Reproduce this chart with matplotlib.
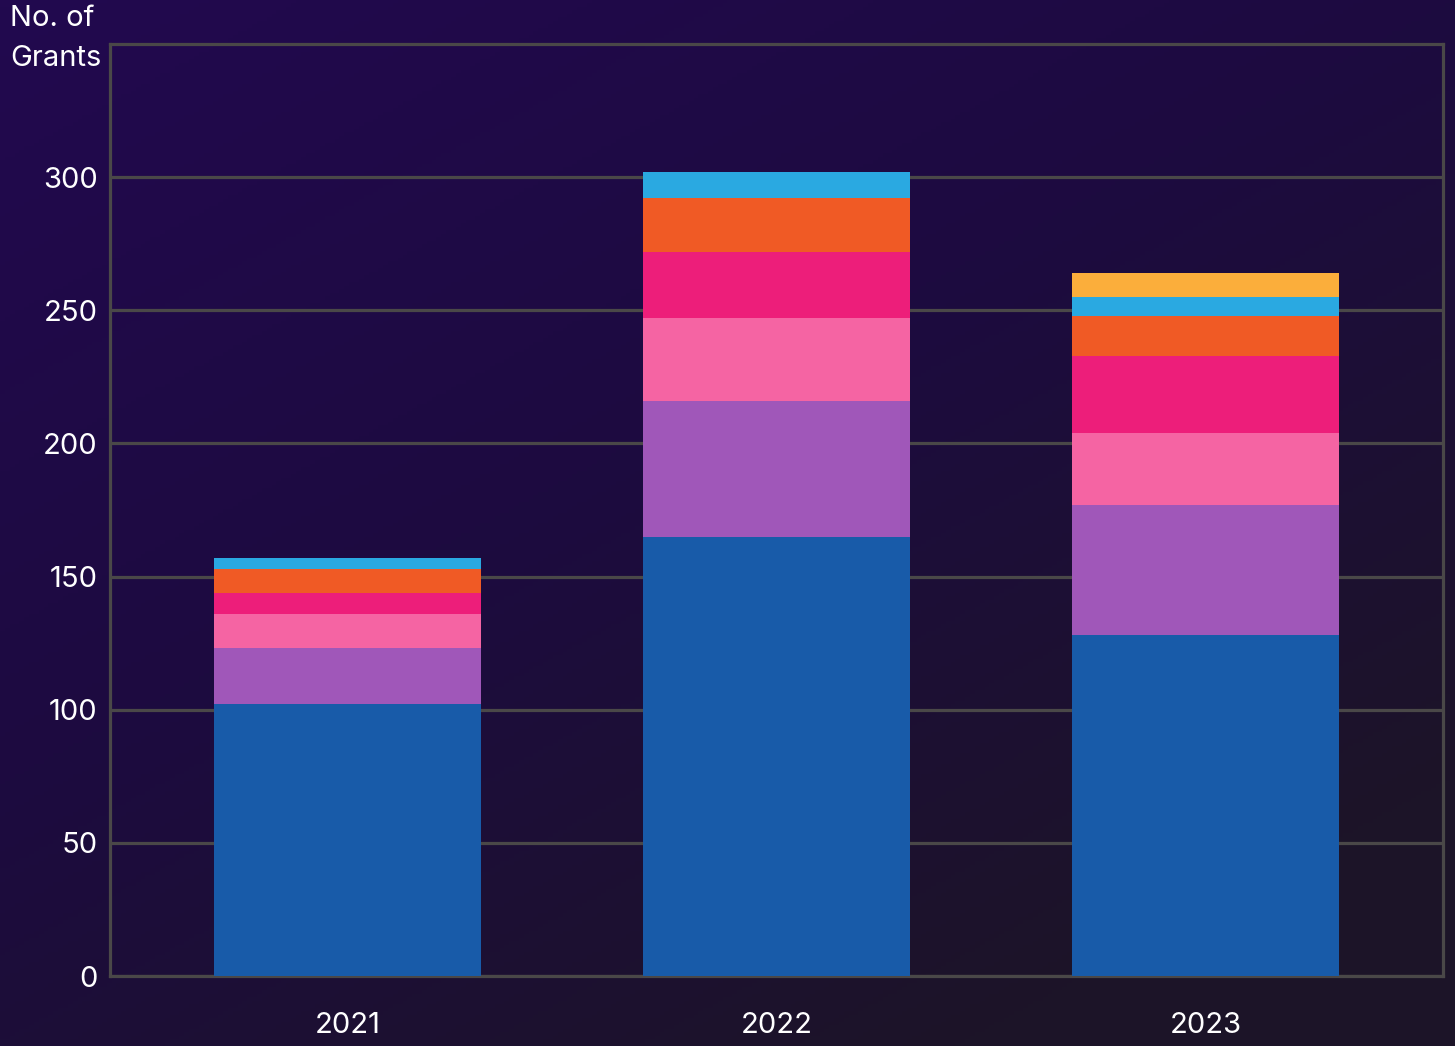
import matplotlib
matplotlib.use("Agg")
import matplotlib.pyplot as plt
import matplotlib.colors as mcolors
import numpy as np

plt.rcParams['font.family'] = ['Inter', 'DejaVu Sans']

years = ['2021', '2022', '2023']

# stacked segments, bottom to top
seg_blue = [102, 165, 128]
seg_purple = [21, 51, 49]
seg_pink = [13, 31, 27]
seg_magenta = [8, 25, 29]
seg_orange = [9, 20, 15]
seg_cyan = [4, 10, 7]
seg_yellow = [0, 0, 9]

segments = [seg_blue, seg_purple, seg_pink, seg_magenta, seg_orange, seg_cyan, seg_yellow]
colors = ['#185ba9', '#a057b9', '#f564a3', '#ed1e7a', '#f05a25', '#2aa9e1', '#fbae3b']

y_ticks = [0, 50, 100, 150, 200, 250, 300]

fig = plt.figure(figsize=(14.55, 10.46), dpi=100)

# background gradient
bg = fig.add_axes([0, 0, 1, 1], zorder=-10)
xx, yy = np.meshgrid(np.linspace(0, 1, 300), np.linspace(0, 1, 300))
t = np.clip((xx * 0.6 + yy * 0.8) / 1.2, 0, 1)
cmap = mcolors.LinearSegmentedColormap.from_list('bg', ['#22094f', '#1d0b40', '#1c1428'])
bg.imshow(t, cmap=cmap, aspect='auto', extent=[0, 1, 0, 1], origin='upper')
bg.axis('off')

ax = fig.add_axes([0.0756, 0.0669, 0.9162, 0.8910])
ax.set_facecolor('none')

x = np.arange(len(years))
bottom = np.zeros(len(years))
for vals, c in zip(segments, colors):
    ax.bar(x, vals, width=0.622, bottom=bottom, color=c, zorder=3, linewidth=0)
    bottom += np.array(vals)

ax.set_xlim(-0.5536, 2.5536)
ax.set_ylim(0, 350)
ax.set_yticks(y_ticks)
ax.set_xticks(x)
ax.set_xticklabels(years)
ax.grid(axis='y', color='#4a4848', linewidth=2.3, zorder=1)
ax.tick_params(length=0, colors='white', labelsize=21)
ax.tick_params(axis='y', pad=9)
ax.tick_params(axis='x', pad=26)
for s in ax.spines.values():
    s.set_color('#4a4848')
    s.set_linewidth(2.3)

fig.text(0.007, 0.995, 'No. of\nGrants', color='white', fontsize=21, ha='left', va='top',
         linespacing=1.6)

fig.savefig('out.png', dpi=100)
